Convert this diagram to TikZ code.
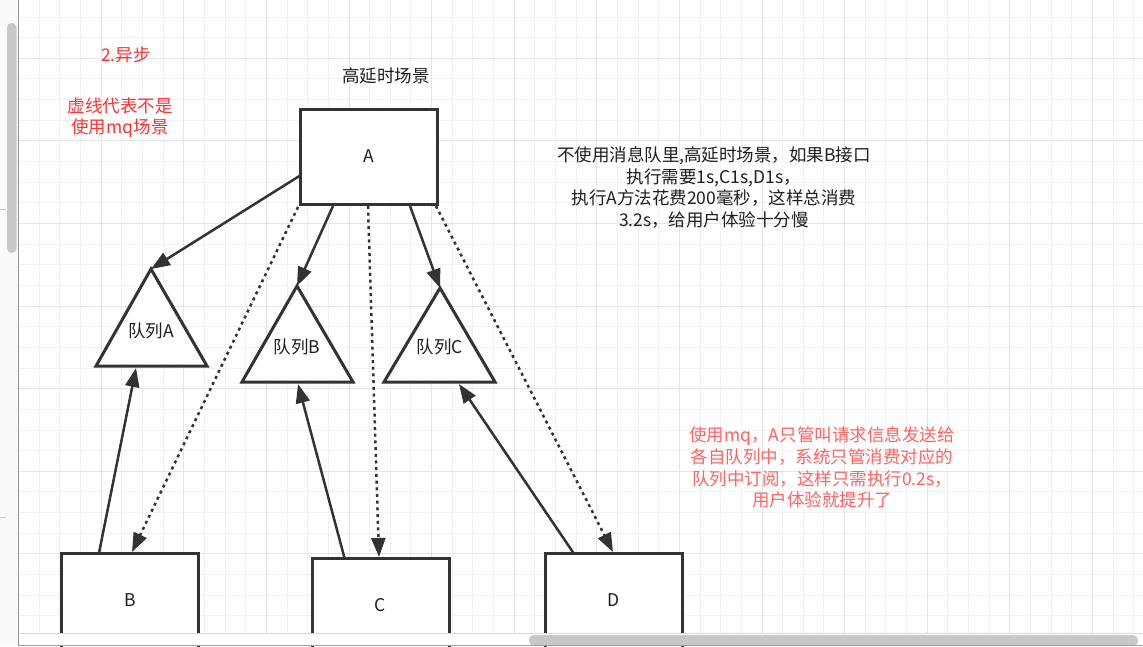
\documentclass[tikz,border=0pt]{standalone}
\usepackage{fontspec}
\setmainfont{Noto Sans CJK SC}
\usetikzlibrary{arrows.meta,calc}
\definecolor{ink}{RGB}{51,51,51}
\definecolor{txt}{RGB}{30,30,30}
\definecolor{redA}{RGB}{255,51,51}
\definecolor{redB}{RGB}{255,100,100}
\definecolor{gridminor}{RGB}{242,242,242}
\definecolor{gridmajor}{RGB}{228,228,228}
\definecolor{barbg}{RGB}{250,250,250}
\definecolor{thumbgray}{RGB}{200,200,200}
\definecolor{markgray}{RGB}{204,204,204}
\definecolor{barline}{RGB}{215,215,215}
\definecolor{bottomline}{RGB}{160,160,160}
\definecolor{divider}{RGB}{150,150,150}
\tikzset{
  box/.style={draw=ink, line width=3pt, fill=white, minimum width=137pt, minimum height=95pt, inner sep=0pt, font=\fontsize{17.5}{21}\selectfont, text=txt},
  tri/.style={draw=ink, line width=3pt, fill=white, line join=miter},
  lbl/.style={font=\fontsize{17.5}{21.7}\selectfont, align=center, inner sep=0pt, text=txt},
  conn/.style={draw=ink, line width=2.5pt, -{Triangle[length=19pt,width=14pt]}},
  dotconn/.style={conn, dash pattern=on 3pt off 3.7pt},
}
\begin{document}
\begin{tikzpicture}[x=1pt,y=-1pt]
\useasboundingbox (0,0) rectangle (1143,646);
\fill[white] (0,0) rectangle (1143,646);
% grid
\begin{scope}
\clip (19,0) rectangle (1143,633);
\foreach \i in {0,...,54} \draw[draw=gridminor, line width=1pt] ({18.6+20.65*\i},0) -- ({18.6+20.65*\i},633);
\foreach \j in {0,...,30} \draw[draw=gridminor, line width=1pt] (19,{17+20.65*\j}) -- (1143,{17+20.65*\j});
\foreach \i in {0,...,13} \draw[draw=gridmajor, line width=1pt] ({18.6+82.6*\i},0) -- ({18.6+82.6*\i},633);
\foreach \j in {0,...,6} \draw[draw=gridmajor, line width=1pt] (19,{58.3+82.6*\j}) -- (1143,{58.3+82.6*\j});
\end{scope}
% boxes
\node[box] (A) at (368.5,156.5) {A};
\node[box] (B) at (130,600.5) {B};
\node[box] (C) at (380.5,605.5) {C};
\node[box] (D) at (614,600.5) {D};
% triangles
\coordinate (qAt) at (151,269); \coordinate (qAl) at (96,366); \coordinate (qAr) at (207,366);
\coordinate (qBt) at (297,286); \coordinate (qBl) at (242,382); \coordinate (qBr) at (353,382);
\coordinate (qCt) at (440,288); \coordinate (qCl) at (384,382); \coordinate (qCr) at (495,382);
\draw[tri] (qAt) -- (qAl) -- (qAr) -- cycle;
\draw[tri] (qBt) -- (qBl) -- (qBr) -- cycle;
\draw[tri] (qCt) -- (qCl) -- (qCr) -- cycle;
\node[lbl] (tA) at (151,331) {队列A};
\node[lbl] (tB) at (297,347) {队列B};
\node[lbl] (tC) at (440,347) {队列C};
% connector end points
\coordinate (a1) at (301,175);
\coordinate (a2) at (298,207);
\coordinate (a3) at (333,206);
\coordinate (a4) at (368,206);
\coordinate (a5) at (410,206);
\coordinate (a6) at (436,206);
\coordinate (bTop) at (132,552);
\coordinate (cTop) at (379,557);
\coordinate (dTop) at (613,552);
\coordinate (b1) at (99,553);
\coordinate (c1) at (344.5,558);
\coordinate (d1) at (573.5,553);
\coordinate (qAb) at (136,368);
\coordinate (qBb) at (298,384);
\coordinate (qCb) at (459,384);
% connectors
\draw[conn] (a1) -- (qAt);
\draw[dotconn] (a2) -- (bTop);
\draw[conn] (a3) -- (qBt);
\draw[dotconn] (a4) -- (cTop);
\draw[conn] (a5) -- (qCt);
\draw[dotconn] (a6) -- (dTop);
\draw[conn] (b1) -- (qAb);
\draw[conn] (c1) -- (qBb);
\draw[conn] (d1) -- (qCb);
% texts
\node[lbl, text=redA] (t1) at (126,55) {2.异步};
\node[lbl, text=redA] (t2) at (120,117.5) {虚线代表不是\\使用mq场景};
\node[lbl] (t3) at (386,76) {高延时场景};
\node[lbl] (t4) at (714,187.5) {不使用消息队里,高延时场景，如果B接口\\执行需要1s,C1s,D1s，\\执行A方法花费200毫秒，这样总消费\\3.2s，给用户体验十分慢};
\node[lbl, text=redB] (t5) at (822,467.5) {使用mq，A只管叫请求信息发送给\\各自队列中，系统只管消费对应的\\队列中订阅，这样只需执行0.2s，\\用户体验就提升了};
% window chrome
\fill[barbg] (0,0) rectangle (18,646);
\fill[thumbgray, rounded corners=4.5pt] (7,23) rectangle (16.5,253);
\draw[draw=markgray, line width=1pt] (0,209.5) -- (6,209.5);
\draw[draw=markgray, line width=1pt] (0,517.5) -- (6,517.5);
\fill[white] (19,633) rectangle (1143,646);
\draw[draw=barline, line width=1pt] (19,633.5) -- (1143,633.5);
\fill[thumbgray, rounded corners=5pt] (529,635) rectangle (1138,646);
\draw[draw=bottomline, line width=1pt] (19,645.5) -- (1143,645.5);
\draw[draw=divider, line width=1.3pt] (18.3,0) -- (18.3,646);
\end{tikzpicture}
\end{document}
